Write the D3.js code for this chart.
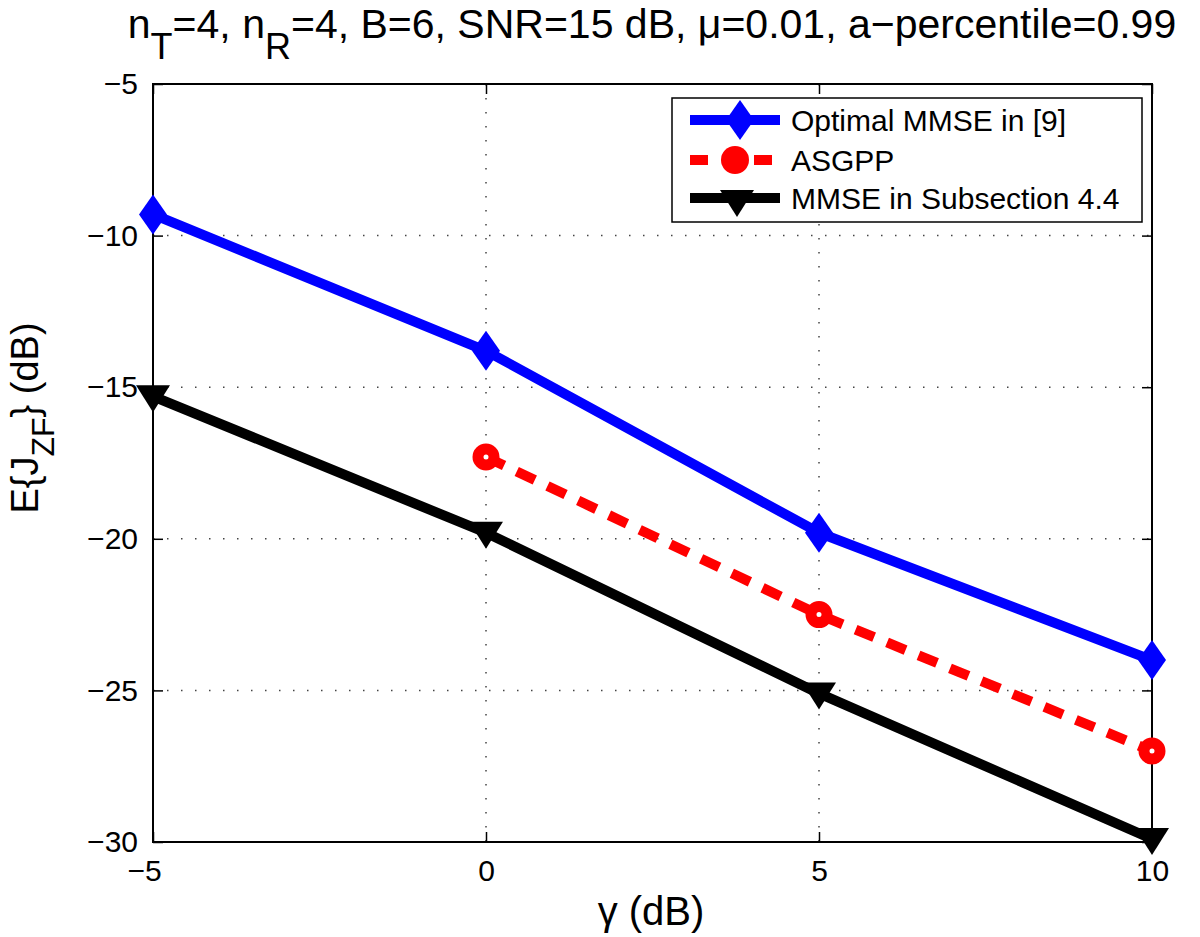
<!DOCTYPE html>
<html><head><meta charset="utf-8">
<script src="https://d3js.org/d3.v7.min.js"></script>
<style>body{margin:0;background:#fff;} text{font-family:"Liberation Sans",Arial,sans-serif;}</style>
</head><body>
<svg id="c" width="1200" height="937"></svg>
<script>
const xValues = [-5, 0, 5, 10];
const optimalMMSE = [-9.3, -13.8, -19.8, -24.0];
const asgppX = [0, 5, 10];
const asgpp = [-17.3, -22.5, -27.0];
const mmseSub = [-15.3, -19.8, -25.1, -29.9];
const xTicks = [-5, 0, 5, 10];
const yTicks = [-5, -10, -15, -20, -25, -30];
const legendLabels = ["Optimal MMSE in [9]", "ASGPP", "MMSE in Subsection 4.4"];

const svg = d3.select("#c");
const L = 153, R = 1152, T = 84, B = 842;
const x = d3.scaleLinear().domain([-5, 10]).range([L, R]);
const y = d3.scaleLinear().domain([-30, -5]).range([B, T]);

// grid
const g = svg.append("g");
xTicks.forEach(t => {
  if (t > -5 && t < 10) g.append("line").attr("x1", x(t)).attr("x2", x(t)).attr("y1", T).attr("y2", B)
    .attr("stroke", "#444").attr("stroke-width", 1.5).attr("stroke-dasharray", "1.5,12.5");
});
yTicks.forEach(t => {
  if (t > -30 && t < -5) g.append("line").attr("x1", L).attr("x2", R).attr("y1", y(t)).attr("y2", y(t))
    .attr("stroke", "#444").attr("stroke-width", 1.5).attr("stroke-dasharray", "1.5,12.5");
});

// axes (inward ticks)
const fmt = d => d < 0 ? "\u2212" + (-d) : d;
const ax = svg.append("g");
const xb = d3.axisBottom(x).tickValues(xTicks).tickSize(-10).tickPadding(18).tickFormat(fmt);
const xt = d3.axisTop(x).tickValues(xTicks).tickSize(-10).tickFormat("");
const yl = d3.axisLeft(y).tickValues(yTicks).tickSize(-10).tickPadding(15).tickFormat(fmt);
const yr = d3.axisRight(y).tickValues(yTicks).tickSize(-10).tickFormat("");
const xbG = ax.append("g").attr("transform", `translate(0,${B})`).call(xb);
ax.append("g").attr("transform", `translate(0,${T})`).call(xt);
ax.append("g").attr("transform", `translate(${L},0)`).call(yl);
ax.append("g").attr("transform", `translate(${R},0)`).call(yr);
ax.selectAll(".domain").remove();
ax.selectAll(".tick line").attr("stroke", "#000").attr("stroke-width", 1.5);
ax.selectAll(".tick text").attr("font-size", 30).attr("fill", "#000")
  .attr("font-family", '"Liberation Sans",Arial,sans-serif');
xbG.selectAll(".tick text").filter(d => d < 0).attr("dx", -9);
svg.append("rect").attr("x", L).attr("y", T).attr("width", R - L).attr("height", B - T)
  .attr("fill", "none").attr("stroke", "#000").attr("stroke-width", 2);

const line = d3.line().x(d => x(d[0])).y(d => y(d[1]));

// symbols
function diamond(sel, cx, cy, col) {
  sel.append("path").attr("d", `M${cx},${cy-20}L${cx+14},${cy}L${cx},${cy+20}L${cx-14},${cy}Z`).attr("fill", col);
}
function tri(sel, cx, cy, col) {
  sel.append("path").attr("d", `M${cx-17},${cy-11}L${cx+17},${cy-11}L${cx},${cy+16}Z`).attr("fill", col);
}

const plot = svg.append("g");
// blue
plot.append("path").datum(xValues.map((v, i) => [v, optimalMMSE[i]])).attr("d", line)
  .attr("fill", "none").attr("stroke", "#0000ff").attr("stroke-width", 10).attr("stroke-linejoin", "round");
xValues.forEach((v, i) => diamond(plot, x(v), y(optimalMMSE[i]), "#0000ff"));
// red
plot.append("path").datum(asgppX.map((v, i) => [v, asgpp[i]])).attr("d", line)
  .attr("fill", "none").attr("stroke", "#ff0000").attr("stroke-width", 10).attr("stroke-dasharray", "20,14");
asgppX.forEach((v, i) => plot.append("circle").attr("cx", x(v)).attr("cy", y(asgpp[i])).attr("r", 8)
  .attr("fill", "#fff").attr("stroke", "#ff0000").attr("stroke-width", 11));
// black
plot.append("path").datum(xValues.map((v, i) => [v, mmseSub[i]])).attr("d", line)
  .attr("fill", "none").attr("stroke", "#000").attr("stroke-width", 10).attr("stroke-linejoin", "round");
xValues.forEach((v, i) => tri(plot, x(v), y(mmseSub[i]), "#000"));

// legend
const lg = svg.append("g");
lg.append("rect").attr("x", 672).attr("y", 98).attr("width", 470).attr("height", 124)
  .attr("fill", "#fff").attr("stroke", "#000").attr("stroke-width", 1.5);
const rows = [120, 160, 198];
const cols = ["#0000ff", "#ff0000", "#000"];
rows.forEach((ry, i) => {
  const ln = lg.append("line").attr("x1", 690).attr("x2", 780).attr("y1", ry).attr("y2", ry)
    .attr("stroke", cols[i]).attr("stroke-width", 10);
  if (i === 1) ln.attr("stroke-dasharray", "18,14");
  if (i === 0) diamond(lg, 740, ry, cols[i]);
  if (i === 1) lg.append("circle").attr("cx", 735).attr("cy", ry).attr("r", 14).attr("fill", cols[i]);
  if (i === 2) tri(lg, 737, ry + 3, cols[i]);
  lg.append("text").attr("x", 791).attr("y", ry + 11).attr("font-size", 30).text(legendLabels[i]);
});

// title
const title = svg.append("text").attr("x", 652).attr("y", 38).attr("text-anchor", "middle").attr("font-size", 41);
title.append("tspan").text("n");
title.append("tspan").attr("font-size", 36).attr("dy", 21).text("T");
title.append("tspan").attr("dy", -21).text("=4, n");
title.append("tspan").attr("font-size", 36).attr("dy", 21).text("R");
title.append("tspan").attr("dy", -21).text("=4, B=6, SNR=15 dB, \u03bc=0.01, a\u2212percentile=0.99");

// x label
svg.append("text").attr("x", 651).attr("y", 925).attr("text-anchor", "middle").attr("font-size", 40).text("\u03b3 (dB)");
// y label
const ylab = svg.append("text").attr("transform", "translate(38,418) rotate(-90)").attr("text-anchor", "middle").attr("font-size", 38);
ylab.append("tspan").text("E{J");
ylab.append("tspan").attr("font-size", 32).attr("dy", 16).text("ZF");
ylab.append("tspan").attr("dy", -16).text("} (dB)");
</script>
</body></html>
